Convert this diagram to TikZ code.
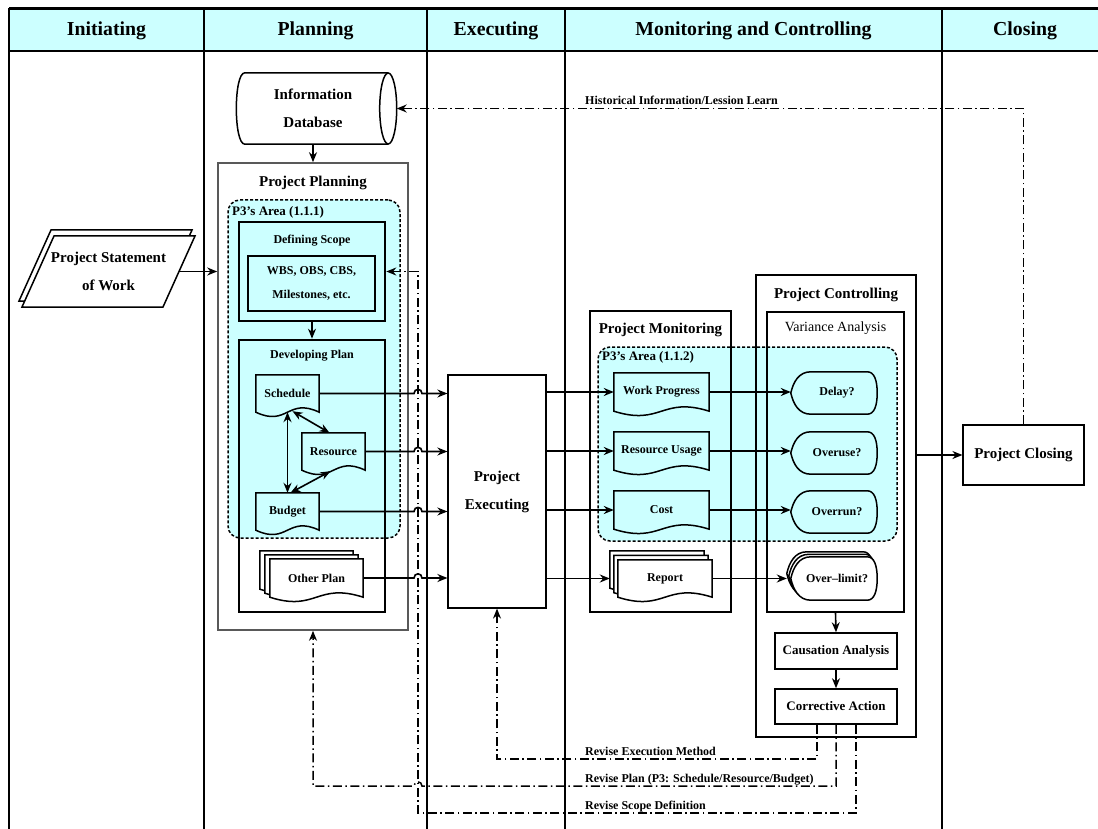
\documentclass[tikz,border=0pt]{standalone}
\usepackage{fontspec}
\setmainfont{Liberation Serif}
\usetikzlibrary{arrows.meta,calc}
\definecolor{pale}{HTML}{CCFFFF}
\pgfdeclarelayer{under}
\pgfdeclarelayer{shapes}
\pgfsetlayers{under,shapes,main}
\newcommand\fHead{\fontsize{19.8}{23}\selectfont\bfseries}
\newcommand\fBig{\fontsize{15}{28}\selectfont\bfseries}
\newcommand\fMid{\fontsize{13}{24}\selectfont\bfseries}
\newcommand\fSmall{\fontsize{12}{24}\selectfont\bfseries}
\newcommand\fNote{\fontsize{12}{14}\selectfont\bfseries}
% box given by its corners: name, x1, y1, x2, y2, style, text
\newcommand\rbox[7]{\node[#6, minimum width={(#4)-(#2)}, minimum height={(#5)-(#3)}] (#1) at ({((#2)+(#4))/2},{((#3)+(#5))/2}) {#7};}
% document outline with a wavy bottom edge
\newcommand\docpath[2]{\begin{pgfonlayer}{shapes}
  \draw[shapeline, fill=#2] (#1.north west) -- (#1.north east) -- (#1.south east)
    .. controls ($(#1.south)+(0,-15)$) and ($(#1.south)+(0,15)$) .. (#1.south west) -- cycle;
  \end{pgfonlayer}}
% display outline: bulging point on the left, shallow arc on the right
\newcommand\dispath[2]{\begin{pgfonlayer}{shapes}
  \draw[shapeline, fill=#2] (#1.west)
    .. controls ($(#1.west)+(2.5,-11)$) and ($(#1.north west)+(8,0)$) .. ($(#1.north west)+(20,0)$)
    -- ($(#1.north east)+(-10,0)$)
    .. controls ($(#1.north east)+(-3,0)$) and ($(#1.east)+(0,-13)$) .. (#1.east)
    .. controls ($(#1.east)+(0,13)$) and ($(#1.south east)+(-3,0)$) .. ($(#1.south east)+(-10,0)$)
    -- ($(#1.south west)+(20,0)$)
    .. controls ($(#1.south west)+(8,0)$) and ($(#1.west)+(2.5,11)$) .. (#1.west) -- cycle;
  \end{pgfonlayer}}
\begin{document}
\begin{tikzpicture}[x=1pt,y=-1pt,
  lane/.style={line width=2.2pt},
  box/.style={draw, line width=1.5pt, align=center, inner sep=0pt},
  wbox/.style={box, fill=white},
  thickbox/.style={draw, line width=2.6pt, inner sep=0pt},
  graybox/.style={draw=black!65, line width=1.6pt, inner sep=0pt},
  area/.style={draw, fill=pale, line width=1.5pt, dash pattern=on 3pt off 2pt, rounded corners=12pt, inner sep=0pt},
  blank/.style={inner sep=0pt},
  docn/.style={inner sep=0pt, align=center, font=\fSmall},
  shapeline/.style={line width=1.5pt},
  txt/.style={align=center, inner sep=1pt},
  tip/.tip={Stealth[length=10pt,width=8pt]},
  arr/.style={line width=1.6pt, -tip},
  darr/.style={line width=1.6pt, tip-tip},
  fb/.style={line width=1.5pt, dash pattern=on 9pt off 3.5pt on 1.5pt off 3.5pt, -tip},
  note/.style={inner sep=0pt, font=\fNote, anchor=base west},
]
\useasboundingbox (0,0) rectangle (1098,829);

% ---------- swimlane header and lanes ----------
\begin{pgfonlayer}{under}
  \fill[pale] (9,8.5) rectangle (1098,51);
\end{pgfonlayer}
\draw[lane] (9,8.5) -- (1098,8.5) (9,51) -- (1098,51);
\foreach \x in {9,204,427,565,942} \draw[lane] (\x,8.5) -- (\x,829);
\node[txt,font=\fHead] (hIni) at (106.5,31) {Initiating};
\node[txt,font=\fHead] (hPla) at (315.5,31) {Planning};
\node[txt,font=\fHead] (hExe) at (496,31) {Executing};
\node[txt,font=\fHead] (hMon) at (753.5,31) {Monitoring and Controlling};
\node[txt,font=\fHead] (hClo) at (1025,31) {Closing};

% ---------- initiating ----------
\node[txt,font=\fBig] (sow) at (108.5,271.5) {Project Statement\\of Work};
\coordinate (sowE) at (179,271.5);
\begin{pgfonlayer}{shapes}
  \draw[shapeline, fill=white] (51,230) -- (192,230) -- (160,301) -- (19,301) -- cycle;
  \draw[shapeline, fill=white] (54,236) -- (195,236) -- (163,307) -- (22,307) -- cycle;
\end{pgfonlayer}

% ---------- planning ----------
\node[blank, minimum width=150, minimum height=71, font=\fBig, align=center] (db) at (313,108.5) {Information\\Database};
\coordinate (dbR) at ($(db.east)+(8.5,0)$);
\begin{pgfonlayer}{shapes}
  \draw[shapeline, fill=white] (db.north east) -- ($(db.north west)+(7,0)$)
    .. controls ($(db.north west)+(-4.3,0)$) and ($(db.south west)+(-4.3,0)$) .. ($(db.south west)+(7,0)$)
    -- (db.south east);
  \draw[shapeline, fill=white] (db.east) ellipse [x radius=8.5pt, y radius=35.5pt];
\end{pgfonlayer}

\rbox{pp}{218}{163}{408}{630}{graybox}{}
\node[txt,font=\fBig] (ppT) at (313,183) {Project Planning};
\begin{pgfonlayer}{under}
  \rbox{pa}{228}{200}{400}{538}{area}{}
\end{pgfonlayer}
\node[txt,font=\fMid,anchor=west] (paT) at (231,212) {P3’s Area (1.1.1)};
\rbox{ds}{239}{222}{385}{321}{thickbox}{}
\node[txt,font=\fSmall] (dsT) at (312,241) {Defining Scope};
\rbox{wbs}{248}{256}{375}{311}{box,line width=1.2pt,font=\fSmall}{WBS, OBS, CBS,\\Milestones, etc.}
\rbox{dp}{239}{340}{385}{612}{thickbox}{}
\node[txt,font=\fSmall] (dpT) at (312,356) {Developing Plan};

\rbox{sch}{256}{375}{319}{412}{docn}{Schedule}
\rbox{res}{302}{433}{365}{470}{docn}{Resource}
\rbox{bud}{256}{493}{319}{530}{docn}{Budget}
\docpath{sch}{pale}
\docpath{res}{pale}
\docpath{bud}{pale}

\rbox{opC}{260}{551}{353}{589}{blank}{}
\rbox{opB}{265}{555}{358}{593}{blank}{}
\rbox{op}{270}{559}{363}{597}{docn}{Other Plan}
\docpath{opC}{white}
\docpath{opB}{white}
\docpath{op}{white}

% ---------- executing ----------
\rbox{ex}{448}{375}{546}{608}{wbox,line width=1.2pt,font=\fBig}{Project\\Executing}

% ---------- monitoring ----------
\rbox{pm}{590}{311}{731}{612}{box}{}
\node[txt,font=\fBig] (pmT) at (660.5,330) {Project Monitoring};
\begin{pgfonlayer}{under}
  \rbox{pb}{598}{347}{897}{541}{area}{}
\end{pgfonlayer}
\node[txt,font=\fMid,anchor=west] (pbT) at (601,357) {P3’s Area (1.1.2)};
\rbox{wp}{614}{373}{709}{411}{docn}{Work Progress}
\rbox{ru}{614}{432}{709}{470}{docn}{Resource Usage}
\rbox{co}{614}{491}{709}{529}{docn}{Cost}
\docpath{wp}{pale}
\docpath{ru}{pale}
\docpath{co}{pale}
\rbox{rC}{610}{551}{704}{588}{blank}{}
\rbox{rB}{614}{555.5}{708}{592.5}{blank}{}
\rbox{rp}{618}{560}{712}{597}{docn}{Report}
\docpath{rC}{white}
\docpath{rB}{white}
\docpath{rp}{white}

% ---------- controlling ----------
\rbox{pc}{756}{275}{916}{737}{box}{}
\node[txt,font=\fBig] (pcT) at (836,295) {Project Controlling};
\rbox{va}{767}{312}{904}{612}{box}{}
\node[txt,font=\fontsize{14}{16}\selectfont] (vaT) at (835.5,328) {Variance Analysis};
\rbox{dl}{791}{372}{877}{414}{docn}{\hspace{6pt}Delay?}
\rbox{ou}{791}{432}{877}{474}{docn}{\hspace{6pt}Overuse?}
\rbox{orr}{791}{491}{877}{533}{docn}{\hspace{6pt}Overrun?}
\dispath{dl}{pale}
\dispath{ou}{pale}
\dispath{orr}{pale}
\rbox{olC}{787}{552}{873}{595}{blank}{}
\rbox{olB}{789}{554.5}{875}{597.5}{blank}{}
\rbox{ol}{791}{557}{877}{600}{docn}{\hspace{6pt}Over--limit?}
\dispath{olC}{white}
\dispath{olB}{white}
\dispath{ol}{white}
\rbox{ca}{775}{633}{897}{669}{wbox,font=\fMid}{Causation Analysis}
\rbox{cr}{775}{689}{897}{724}{wbox,font=\fMid}{Corrective Action}

% ---------- closing ----------
\rbox{cl}{963}{425}{1084}{485}{wbox,line width=1.2pt,font=\fBig}{Project Closing}

% ---------- flow connectors ----------
\coordinate (hx) at (418,0);
\draw[arr] (db.south) -- (pp.north);
\draw[arr] (sowE) -- (sowE -| pp.west);
\draw[arr] (ds.south) -- (dp.north);
\draw[darr] ($(sch.south)+(5,-1)$) -- ($(res.north)+(-4,0)$);
\draw[darr] (sch.south) -- (bud.north);
\draw[darr] ($(bud.north)+(3,0)$) -- ($(res.south)+(-3,1)$);

\foreach \d in {sch,res,bud,op}
  \draw[arr] (\d.east) -- ($(\d.east -| hx)+(-4,0)$)
    .. controls +(0,-5.5) and +(0,-5.5) .. ++(8,0) -- (\d.east -| ex.west);

\draw[arr] (ex.east |- wp.west) -- (wp.west);
\draw[arr] (ex.east |- ru.west) -- (ru.west);
\draw[arr] (ex.east |- co.west) -- (co.west);
\draw[arr] (ex.east |- rp.west) -- (rp.west -| rC.west);

\draw[arr] (wp.east) -- (wp.east -| dl.west);
\draw[arr] (ru.east) -- (ru.east -| ou.west);
\draw[arr] (co.east) -- (co.east -| orr.west);
\draw[arr] (rp.east) -- (rp.east -| olC.west);

\draw[arr] (va.south) -- (ca.north);
\draw[arr] (ca.south) -- (cr.north);
\draw[arr] (cl.west -| pc.east) -- (cl.west);

% ---------- feedback loops ----------
\coordinate (crA) at ($(cr.south)+(-19,0)$);
\coordinate (crB) at (cr.south);
\coordinate (crC) at ($(cr.south)+(20,0)$);
\coordinate (yE) at (0,759);
\coordinate (yP) at (0,786);
\coordinate (yS) at (0,813);

\draw[fb] (cl.north) |- (dbR);
\node[note] (lbH) at (585,105) {Historical Information/Lession Learn};

\draw[fb] (crA) -- (crA |- yE) -| (ex.south);
\node[note] (lbE) at (585,755) {Revise Execution Method};

\draw[fb] (crB) -- (crB |- yP) -- ($(hx |- yP)+(4,0)$)
  .. controls +(0,-5.5) and +(0,-5.5) .. ++(-8,0) -- (pp.south |- yP) -- (pp.south);
\node[note] (lbP) at (585,782) {Revise Plan (P3: Schedule/Resource/Budget)};

\draw[fb] (crC) -- (crC |- yS) -- (hx |- yS) -- (hx |- ds.east) -- (ds.east);
\node[note] (lbS) at (585,809) {Revise Scope Definition};
\end{tikzpicture}
\end{document}
